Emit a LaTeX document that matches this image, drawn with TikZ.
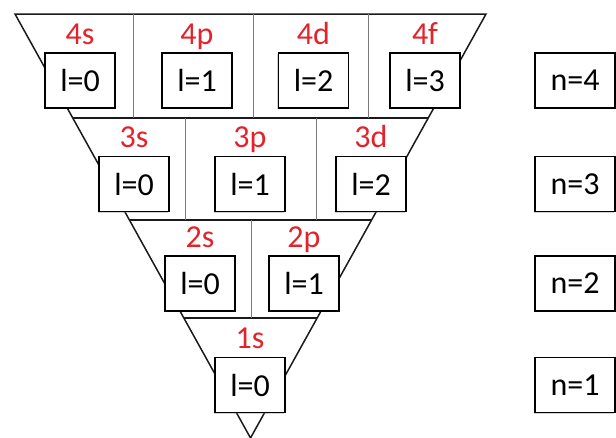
\documentclass[tikz,border=0pt]{standalone}
\usepackage{xcolor}
\usepackage{tikz}
\usepackage{fontspec}
\setmainfont{Carlito}
\usetikzlibrary{positioning,calc,shadows}
\definecolor{orbred}{HTML}{E3232C}
\definecolor{shellline}{HTML}{1A1A1A}
\definecolor{subline}{HTML}{7A7A7A}
\tikzstyle{qbox} = [rectangle, draw=black, line width=1.6pt, fill=white,
    minimum width=70pt, minimum height=55pt, inner sep=0pt,
    font=\fontsize{32}{38}\selectfont,
    drop shadow={shadow xshift=-1.2pt, shadow yshift=-1.2pt, opacity=0.35}]
\tikzstyle{nbox} = [qbox, minimum width=80pt]
\tikzstyle{orbital} = [text=orbred, inner sep=0pt, text depth=0pt,
    font=\fontsize{32}{38}\selectfont]
\tikzstyle{shell} = [line width=1.5pt, shellline]
\tikzstyle{divider} = [line width=0.9pt, subline]

\begin{document}
\begin{tikzpicture}[x=1pt, y=-1pt, node distance=8pt]
\useasboundingbox (0,0) rectangle (616,437);

% outer funnel
\coordinate (tl) at (15,14);
\coordinate (tr) at (486,14);
\coordinate (apex) at (250.5,438);
\draw[shell] (tl) -- (tr) -- (apex) -- cycle;
\draw[shell] ($(tl)!0.2453!(apex)$) -- ($(tr)!0.2453!(apex)$);
\draw[shell] ($(tl)!0.4858!(apex)$) -- ($(tr)!0.4858!(apex)$);
\draw[shell] ($(tl)!0.7170!(apex)$) -- ($(tr)!0.7170!(apex)$);

% subshell dividers
\draw[divider] (133,14) -- (133,118);
\draw[divider] (253,14) -- (253,118);
\draw[divider] (368,14) -- (368,118);
\draw[divider] (185,118) -- (185,220);
\draw[divider] (316,118) -- (316,220);
\draw[divider] (251,220) -- (251,318);

% n = 4
\node[qbox] (l40) at (80,80.5) {l=0};
\node[qbox] (l41) at (197,80.5) {l=1};
\node[qbox] (l42) at (313.5,80.5) {l=2};
\node[qbox] (l43) at (425,80.5) {l=3};
\node[orbital, above=of l40] (s4) {4s};
\node[orbital, above=of l41] (p4) {4p};
\node[orbital, above=of l42] (d4) {4d};
\node[orbital, above=of l43] (f4) {4f};

% n = 3
\node[qbox] (l30) at (134,184) {l=0};
\node[qbox] (l31) at (250,184) {l=1};
\node[qbox] (l32) at (371,184) {l=2};
\node[orbital, above=of l30] (s3) {3s};
\node[orbital, above=of l31] (p3) {3p};
\node[orbital, above=of l32] (d3) {3d};

% n = 2
\node[qbox] (l20) at (200,283.5) {l=0};
\node[qbox] (l21) at (304,283.5) {l=1};
\node[orbital, above=of l20] (s2) {2s};
\node[orbital, above=of l21] (p2) {2p};

% n = 1
\node[qbox] (l10) at (250,385) {l=0};
\node[orbital, above=of l10] (s1) {1s};

% shell labels
\node[nbox] (n4) at (575,80.5) {n=4};
\node[nbox] (n3) at (575,184) {n=3};
\node[nbox] (n2) at (575,283.5) {n=2};
\node[nbox] (n1) at (575,385) {n=1};

\end{tikzpicture}
\end{document}
